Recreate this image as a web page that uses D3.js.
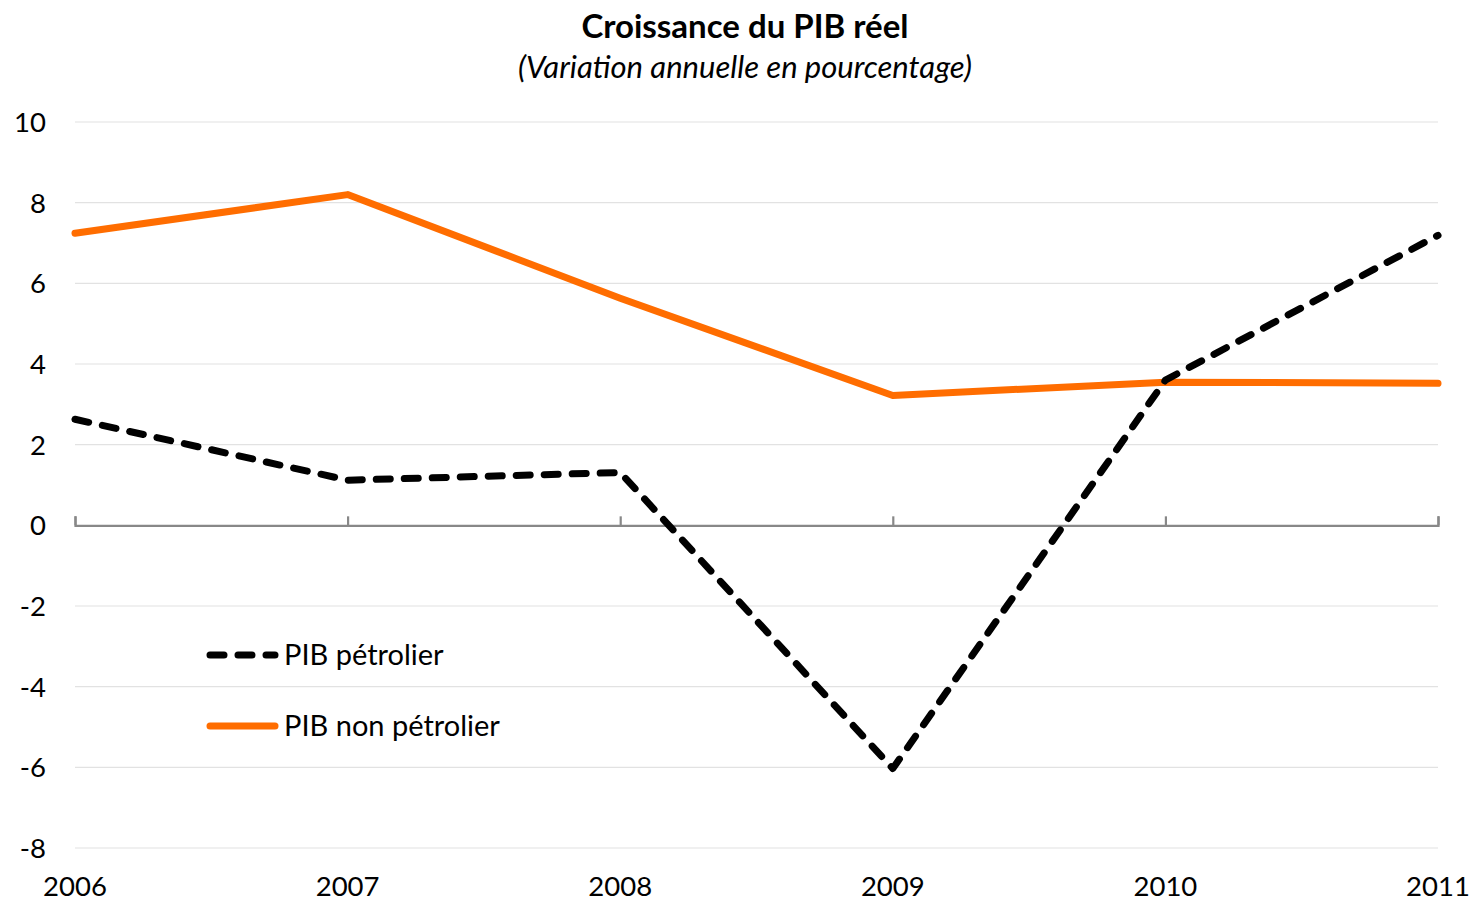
<!DOCTYPE html>
<html>
<head>
<meta charset="utf-8">
<script src="https://cdn.jsdelivr.net/npm/d3@7"></script>
<style>
  body { margin: 0; background: #fff; }
  svg { font-family: Lato, "Open Sans", sans-serif; }
</style>
</head>
<body>
<svg width="1472" height="902"></svg>
<script>
var years = [2006, 2007, 2008, 2009, 2010, 2011];
var petrolier = [2.63, 1.12, 1.31, -6.03, 3.6, 7.19];
var nonPetrolier = [7.24, 8.2, 5.63, 3.22, 3.55, 3.52];
var yTicks = [10, 8, 6, 4, 2, 0, -2, -4, -6, -8];

var svg = d3.select("svg");

var x = d3.scaleLinear().domain([2006, 2011]).range([75, 1438]);
var y = d3.scaleLinear().domain([-8, 10]).range([848, 122]);

// title
svg.append("text")
    .attr("x", 745).attr("y", 38)
    .attr("text-anchor", "middle")
    .style("font-size", "33px").style("font-weight", "bold")
    .text("Croissance du PIB réel");
svg.append("text")
    .attr("x", 745).attr("y", 78)
    .attr("text-anchor", "middle")
    .style("font-size", "31px").style("font-style", "italic")
    .text("(Variation annuelle en pourcentage)");

// gridlines
svg.append("g")
  .selectAll("line")
  .data(yTicks.filter(function(d) { return d != 0; }))
  .enter().append("line")
    .attr("x1", 75).attr("x2", 1438)
    .attr("y1", function(d) { return y(d); })
    .attr("y2", function(d) { return y(d); })
    .attr("stroke", "#e2e2e2").attr("stroke-width", 1.2);

// y labels
svg.append("g")
  .selectAll("text")
  .data(yTicks)
  .enter().append("text")
    .attr("x", 46)
    .attr("y", function(d) { return y(d) + 10; })
    .attr("text-anchor", "end")
    .style("font-size", "27.5px")
    .text(function(d) { return d; });

// x axis at zero, ticks pointing up
var xAxis = svg.append("g")
    .attr("transform", "translate(0," + y(0) + ")")
    .call(d3.axisTop(x).tickValues(years).tickSize(9).tickSizeOuter(9).tickFormat(""));
xAxis.select(".domain").attr("stroke", "#888").attr("stroke-width", 2.2);
xAxis.selectAll(".tick line").attr("stroke", "#888").attr("stroke-width", 2.2);

// x labels at bottom
svg.append("g")
  .selectAll("text")
  .data(years)
  .enter().append("text")
    .attr("x", function(d) { return x(d); })
    .attr("y", 896)
    .attr("text-anchor", "middle")
    .style("font-size", "27.5px")
    .text(function(d) { return d; });

var line = d3.line()
    .x(function(d, i) { return x(years[i]); })
    .y(function(d) { return y(d); });

svg.append("path")
    .datum(nonPetrolier)
    .attr("d", line)
    .attr("fill", "none")
    .attr("stroke", "#ff6d00")
    .attr("stroke-width", 7)
    .attr("stroke-linecap", "round")
    .attr("stroke-linejoin", "round");

svg.append("path")
    .datum(petrolier)
    .attr("d", line)
    .attr("fill", "none")
    .attr("stroke", "#000")
    .attr("stroke-width", 7)
    .attr("stroke-dasharray", "14,14")
    .attr("stroke-linecap", "round")
    .attr("stroke-linejoin", "round");

// legend
var legend = [
  {label: "PIB pétrolier", color: "#000", dash: "14,14", yy: 655},
  {label: "PIB non pétrolier", color: "#ff6d00", dash: null, yy: 726}
];
var lg = svg.append("g").selectAll("g").data(legend).enter().append("g");
lg.append("line")
    .attr("x1", 210).attr("x2", 275)
    .attr("y1", function(d) { return d.yy; })
    .attr("y2", function(d) { return d.yy; })
    .attr("stroke", function(d) { return d.color; })
    .attr("stroke-width", 7)
    .attr("stroke-linecap", "round")
    .attr("stroke-dasharray", function(d) { return d.dash; });
lg.append("text")
    .attr("x", 284)
    .attr("y", function(d) { return d.yy + 10; })
    .style("font-size", "29px")
    .text(function(d) { return d.label; });
</script>
</body>
</html>
